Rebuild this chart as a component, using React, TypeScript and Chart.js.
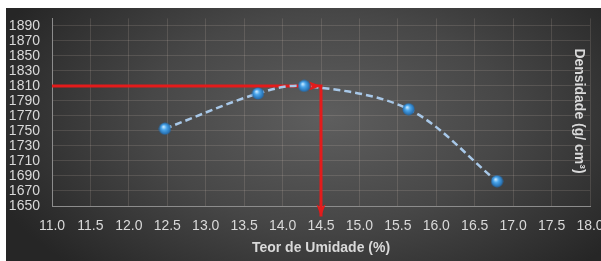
import React, { useEffect, useRef } from 'react';
import { Chart, registerables } from 'chart.js';

Chart.register(...registerables);

// ---- data ----
const moisture = [12.47, 13.68, 14.28, 15.64, 16.79];
const density = [1753, 1800, 1810, 1779, 1683];
const xTicks = [11.0, 11.5, 12.0, 12.5, 13.0, 13.5, 14.0, 14.5, 15.0, 15.5, 16.0, 16.5, 17.0, 17.5, 18.0];
const yTicks = [1650, 1670, 1690, 1710, 1730, 1750, 1770, 1790, 1810, 1830, 1850, 1870, 1890];
const guideX = [11.0, 14.5, 14.5];
const guideY = [1810, 1810, 1636];
const xTitle = 'Teor de Umidade (%)';
const yTitle = 'Densidade (g/ cm³)';

const FONT = '"Liberation Sans", Arial, sans-serif';
const TEXT = '#d9d9d9';
const RED = '#e41b1b';
const TOP_WHITE = 10;

function makeBall(): HTMLCanvasElement {
  const c = document.createElement('canvas');
  const s = 13;
  c.width = s; c.height = s;
  const g = c.getContext('2d')!;
  const grad = g.createRadialGradient(5, 4.5, 0.5, 6.5, 6.5, 6.5);
  grad.addColorStop(0, '#c2e6ff');
  grad.addColorStop(0.35, '#4aa6ec');
  grad.addColorStop(1, '#1c5f9e');
  g.fillStyle = grad;
  g.beginPath();
  g.arc(6.5, 6.5, 6, 0, Math.PI * 2);
  g.fill();
  return c;
}

const bgPlugin = {
  id: 'bg',
  beforeDraw(chart: any) {
    const { ctx, width, height } = chart;
    ctx.save();
    ctx.fillStyle = '#ffffff';
    ctx.fillRect(0, 0, width, TOP_WHITE);
    ctx.beginPath();
    ctx.rect(0, TOP_WHITE, width, height - TOP_WHITE);
    ctx.clip();
    ctx.fillStyle = '#262626';
    ctx.fillRect(0, TOP_WHITE, width, height - TOP_WHITE);
    ctx.translate(320, 120);
    ctx.scale(1.7, 1);
    const g = ctx.createRadialGradient(0, 0, 0, 0, 0, 210);
    g.addColorStop(0, '#5e5e5e');
    g.addColorStop(0.5, '#474747');
    g.addColorStop(1, '#262626');
    ctx.fillStyle = g;
    ctx.fillRect(-400, -300, 800, 600);
    ctx.restore();
  },
};

function head(ctx: any, a: any, b: any) {
  const ang = Math.atan2(b.y - a.y, b.x - a.x);
  const L = 12, W = 4.5;
  ctx.save();
  ctx.translate(b.x, b.y);
  ctx.rotate(ang);
  ctx.fillStyle = RED;
  ctx.beginPath();
  ctx.moveTo(0, 0);
  ctx.lineTo(-L, -W);
  ctx.lineTo(-L + 3, 0);
  ctx.lineTo(-L, W);
  ctx.closePath();
  ctx.fill();
  ctx.restore();
}

const overlayPlugin = {
  id: 'overlay',
  afterDatasetsDraw(chart: any) {
    const xs = chart.scales.x, ys = chart.scales.y;
    const p = guideX.map((v, i) => ({ x: xs.getPixelForValue(v), y: ys.getPixelForValue(guideY[i]) }));
    const ctx = chart.ctx;
    head(ctx, p[0], p[1]);
    head(ctx, p[1], p[2]);
  },
  afterDraw(chart: any) {
    const ctx = chart.ctx;
    ctx.save();
    ctx.translate(573, 113);
    ctx.rotate(Math.PI / 2);
    ctx.font = `bold 14px ${FONT}`;
    ctx.fillStyle = TEXT;
    ctx.textAlign = 'center';
    ctx.textBaseline = 'middle';
    ctx.fillText(yTitle, 0, 0);
    ctx.restore();
  },
};

export default function App() {
  const ref = useRef<HTMLCanvasElement | null>(null);
  useEffect(() => {
    if (!ref.current) return;
    const ball = makeBall();
    const chart = new Chart(ref.current, {
      type: 'line',
      data: {
        datasets: [
          {
            data: moisture.map((x, i) => ({ x, y: density[i] })),
            borderColor: '#a8c8e8',
            borderWidth: 2.5,
            borderDash: [7, 4],
            tension: 0.33,
            pointStyle: ball as any,
            pointRadius: 6,
            order: 0,
          },
          {
            data: guideX.map((x, i) => ({ x, y: guideY[i] })),
            borderColor: RED,
            borderWidth: 3,
            pointRadius: 0,
            tension: 0,
            clip: false as any,
            order: 1,
          },
        ],
      },
      options: {
        animation: false,
        responsive: true,
        maintainAspectRatio: false,
        layout: { padding: { top: 2, left: 0, right: 36, bottom: 0 } },
        plugins: { legend: { display: false }, tooltip: { enabled: false } },
        scales: {
          x: {
            type: 'linear',
            min: 11,
            max: 18,
            afterBuildTicks: (s: any) => { s.ticks = xTicks.map((v) => ({ value: v })); },
            afterFit: (s: any) => { s.height = 55; },
            ticks: {
              color: TEXT,
              font: { family: FONT, size: 14 },
              padding: 12,
              maxRotation: 0,
              autoSkip: false,
              callback: (v: any) => Number(v).toFixed(1),
            },
            grid: { color: 'rgba(255,235,220,0.13)', drawTicks: false },
            border: { color: '#8c8c8c', width: 1 },
            title: {
              display: true,
              text: xTitle,
              color: TEXT,
              font: { family: FONT, size: 14, weight: 'bold' },
              padding: { top: 0, bottom: 4 },
            },
          },
          y: {
            type: 'linear',
            min: 1650,
            max: 1900,
            afterBuildTicks: (s: any) => { s.ticks = yTicks.map((v) => ({ value: v })); },
            afterFit: (s: any) => { s.width = 46; },
            ticks: {
              color: TEXT,
              font: { family: FONT, size: 14 },
              padding: 12,
              autoSkip: false,
              callback: (v: any) => String(v),
            },
            grid: { color: 'rgba(255,235,220,0.13)', drawTicks: false },
            border: { color: '#8c8c8c', width: 1 },
          },
        },
      },
      plugins: [bgPlugin, overlayPlugin],
    } as any);
    return () => chart.destroy();
  }, []);
  return (
    <div style={{ position: 'fixed', left: 6, top: -2, width: 620, height: 263 }}>
      <canvas ref={ref} />
    </div>
  );
}
